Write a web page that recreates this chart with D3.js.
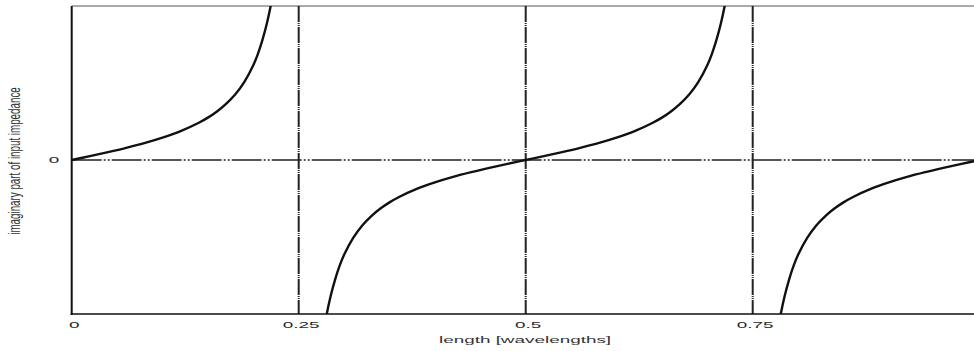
<!DOCTYPE html>
<html>
<head>
<meta charset="utf-8">
<script src="https://cdn.jsdelivr.net/npm/d3@7"></script>
<style>
  body { margin: 0; background: #fff; }
  svg { display: block; }
  .tick-label { font-family: 'Liberation Sans', Arial, sans-serif; font-size: 8.4px; fill: #2a2a2a; }
  .axis-title { font-family: 'Liberation Sans', Arial, sans-serif; fill: #333; }
</style>
</head>
<body>
<div id="chart"></div>
<script>
// length in wavelengths, imaginary part of input impedance (in units of Z0)
const lengthTicks = [0, 0.25, 0.5, 0.75];
const lengthTickLabels = ['0', '0.25', '0.5', '0.75'];
const reactanceTicks = [0];
const reactanceTickLabels = ['0'];
const dashedLengths = [0.25, 0.5, 0.75];

const branch1 = [
  [0, 0], [0.02, 0.126], [0.04, 0.257], [0.06, 0.396], [0.08, 0.549],
  [0.10, 0.727], [0.12, 0.939], [0.14, 1.209], [0.15, 1.376], [0.16, 1.576],
  [0.17, 1.82], [0.18, 2.125], [0.19, 2.53], [0.20, 3.078], [0.205, 3.44],
  [0.21, 3.89], [0.215, 4.44], [0.22, 5.14], [0.225, 6.1]
];
const branch2 = [
  [0.275, -6.1], [0.28, -5.14], [0.285, -4.44], [0.29, -3.89], [0.295, -3.44],
  [0.30, -3.078], [0.31, -2.53], [0.32, -2.125], [0.33, -1.82], [0.34, -1.576],
  [0.35, -1.376], [0.36, -1.209], [0.38, -0.939], [0.40, -0.727], [0.42, -0.549],
  [0.44, -0.396], [0.46, -0.257], [0.48, -0.126], [0.50, 0],
  [0.52, 0.126], [0.54, 0.257], [0.56, 0.396], [0.58, 0.549], [0.60, 0.727],
  [0.62, 0.939], [0.64, 1.209], [0.65, 1.376], [0.66, 1.576], [0.67, 1.82],
  [0.68, 2.125], [0.69, 2.53], [0.70, 3.078], [0.705, 3.44], [0.71, 3.89],
  [0.715, 4.44], [0.72, 5.14], [0.725, 6.1]
];
const branch3 = [
  [0.775, -6.1], [0.78, -5.14], [0.785, -4.44], [0.79, -3.89], [0.795, -3.44],
  [0.80, -3.078], [0.81, -2.53], [0.82, -2.125], [0.83, -1.82], [0.84, -1.576],
  [0.85, -1.376], [0.86, -1.209], [0.88, -0.939], [0.90, -0.727], [0.92, -0.549],
  [0.94, -0.396], [0.96, -0.257], [0.98, -0.126], [1.0, 0]
];
const branches = [branch1, branch2, branch3];

const svgW = 974;
const svgH = 351;
const plotTop = 6;
const plotBottom = 314;
const plotLeft = 71.7;

const x = d3.scaleLinear().domain([0, 1]).range([plotLeft, 979.7]);
const y = d3.scaleLinear().domain([-5, 5]).range([plotBottom, plotTop]);

const svg = d3.select('#chart').append('svg')
  .attr('width', svgW)
  .attr('height', svgH)
  .attr('viewBox', `0 0 ${svgW} ${svgH}`);

svg.append('defs').append('clipPath')
  .attr('id', 'plot-clip')
  .append('rect')
  .attr('x', plotLeft)
  .attr('y', plotTop)
  .attr('width', svgW - plotLeft)
  .attr('height', plotBottom - plotTop);

// top border
svg.append('line')
  .attr('x1', plotLeft).attr('x2', svgW)
  .attr('y1', plotTop).attr('y2', plotTop)
  .attr('stroke', '#555')
  .attr('stroke-width', 1);

// zero line
svg.append('line')
  .attr('x1', x(0)).attr('x2', svgW)
  .attr('y1', y(0)).attr('y2', y(0))
  .attr('stroke', '#222')
  .attr('stroke-width', 1.4)
  .attr('stroke-dasharray', '30,2,2,2,2,2');

// dashed verticals
svg.append('g')
  .attr('class', 'dashed-verticals')
  .selectAll('line')
  .data(dashedLengths)
  .join('line')
  .attr('x1', d => x(d)).attr('x2', d => x(d))
  .attr('y1', plotTop).attr('y2', plotBottom)
  .attr('stroke', '#222')
  .attr('stroke-width', 2)
  .attr('stroke-dasharray', '16,1,1,1,1,1');

// curves
const line = d3.line()
  .x(d => x(d[0]))
  .y(d => y(d[1]))
  .curve(d3.curveCatmullRom);

svg.append('g')
  .attr('clip-path', 'url(#plot-clip)')
  .selectAll('path')
  .data(branches)
  .join('path')
  .attr('d', line)
  .attr('fill', 'none')
  .attr('stroke', '#111')
  .attr('stroke-width', 2.4);

// left and bottom axis lines
svg.append('line')
  .attr('x1', plotLeft).attr('x2', plotLeft)
  .attr('y1', plotTop).attr('y2', plotBottom + 1)
  .attr('stroke', '#111')
  .attr('stroke-width', 2);
svg.append('line')
  .attr('x1', plotLeft - 1).attr('x2', svgW)
  .attr('y1', plotBottom).attr('y2', plotBottom)
  .attr('stroke', '#111')
  .attr('stroke-width', 1.6);

// x tick labels (stretched horizontally like the source)
svg.append('g')
  .selectAll('text')
  .data(lengthTicks)
  .join('text')
  .attr('class', 'tick-label')
  .attr('text-anchor', 'middle')
  .attr('transform', d => `translate(${x(d) + 2.5},327.7) scale(2.25,1)`)
  .text((d, i) => lengthTickLabels[i]);

// y tick labels
svg.append('g')
  .selectAll('text')
  .data(reactanceTicks)
  .join('text')
  .attr('class', 'tick-label')
  .attr('text-anchor', 'middle')
  .attr('transform', d => `translate(54,${y(d) + 3}) scale(2.25,1)`)
  .text((d, i) => reactanceTickLabels[i]);

// axis titles
svg.append('text')
  .attr('class', 'axis-title')
  .attr('text-anchor', 'middle')
  .attr('font-size', 8.4)
  .attr('transform', `translate(525,342.7) scale(2.25,1)`)
  .text('length [wavelengths]');

svg.append('text')
  .attr('class', 'axis-title')
  .attr('text-anchor', 'middle')
  .attr('font-size', 9.8)
  .attr('fill', '#444')
  .attr('transform', `translate(20,161) rotate(-90) scale(1,1.6)`)
  .text('imaginary part of input impedance');
</script>
</body>
</html>
